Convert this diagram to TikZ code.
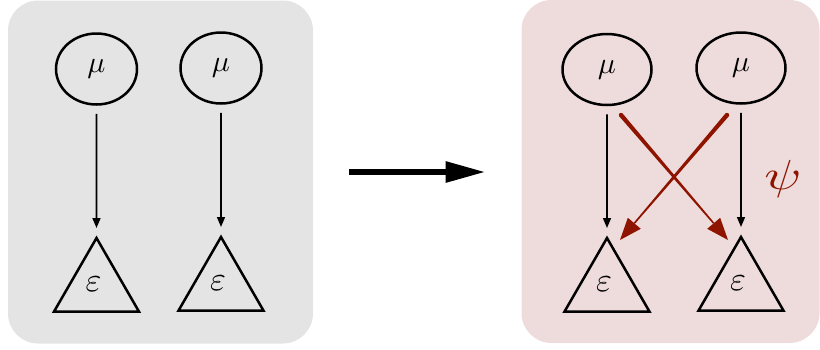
\documentclass[tikz,border=0pt]{standalone}
\usepackage{graphicx}
\usetikzlibrary{shapes.geometric,arrows.meta,calc}
\definecolor{panelgray}{HTML}{E4E4E4}
\definecolor{panelpink}{HTML}{EEDCDC}
\definecolor{darkred}{HTML}{8E1400}
\newcommand{\symbig}[2]{\scalebox{#1}{$#2$}}
\begin{document}
\begin{tikzpicture}[x=1pt,y=-1pt,
  panel/.style={rounded corners=30pt,minimum width=#1,minimum height=343pt,inner sep=0pt,outer sep=0pt},
  mu/.style={draw,line width=2.5pt,ellipse,minimum width=#1,minimum height=71pt,inner sep=0pt},
  eps/.style={draw,line width=2.5pt,regular polygon,regular polygon sides=3,minimum size=98pt,inner sep=0pt,outer sep=0pt},
  blk/.style={line width=1.6pt,-{Triangle[length=10pt,width=8pt]},shorten <=8pt,shorten >=10pt}]
\useasboundingbox (0,0) rectangle (820,349);
\node[panel=305pt,fill=panelgray] (lp) at (160.5,172) {};
\node[panel=298pt,fill=panelpink] (rp) at (670.5,171.5) {};
% left
\node[mu=81pt] (m1) at (96.5,69) {\symbig{3.0}{\mu}};
\node[mu=81pt] (m2) at (221,68) {\symbig{3.0}{\mu}};
\node[eps] (e1) at (96.5,287) {\hspace*{-6pt}\raisebox{6pt}{\symbig{3.4}{\varepsilon}}};
\node[eps] (e2) at (221,286) {\hspace*{-6pt}\raisebox{6pt}{\symbig{3.4}{\varepsilon}}};
\draw[blk] (m1) -- (e1);
\draw[blk] (m2) -- (e2);
% big arrow
\draw[line width=6pt,-{Triangle[length=40pt,width=20pt]},shorten <=36pt,shorten >=36pt] (lp.east) -- (rp.west |- lp.east);
% right
\node[mu=89pt] (m3) at (607,69.5) {\symbig{3.0}{\mu}};
\node[mu=89pt] (m4) at (741,68) {\symbig{3.0}{\mu}};
\node[eps] (e3) at (607,287) {\hspace*{-6pt}\raisebox{6pt}{\symbig{3.4}{\varepsilon}}};
\node[eps] (e4) at (741,286) {\hspace*{-6pt}\raisebox{6pt}{\symbig{3.4}{\varepsilon}}};
\draw[blk] (m3) -- (e3);
\draw[blk] (m4) -- (e4);
% red tapered arrows
\coordinate (s1) at ($(m3.center)+(14,45.5)$);
\coordinate (t1) at ($(e4.center)+(-13,-46)$);
\coordinate (s2) at ($(m4.center)+(-14,47)$);
\coordinate (t2) at ($(e3.center)+(13,-47)$);
\foreach \s/\t in {s1/t1,s2/t2}{
  \coordinate (b) at ($(\t)!22pt!(\s)$);
  \fill[darkred] ($(\s)!2.2pt!90:(\t)$) -- ($(b)!0.8pt!-90:(\s)$) -- ($(b)!0.8pt!90:(\s)$) -- ($(\s)!2.2pt!-90:(\t)$) -- cycle;
  \fill[darkred] (\s) circle (2.2pt);
  \fill[darkred] ($(b)!8.5pt!90:(\s)$) -- (\t) -- ($(b)!8.5pt!-90:(\s)$) -- cycle;
}
\node[text=darkred,inner sep=0pt] (psi) at (783,179) {\scalebox{5.4}[4.2]{$\psi$}};
\end{tikzpicture}
\end{document}
